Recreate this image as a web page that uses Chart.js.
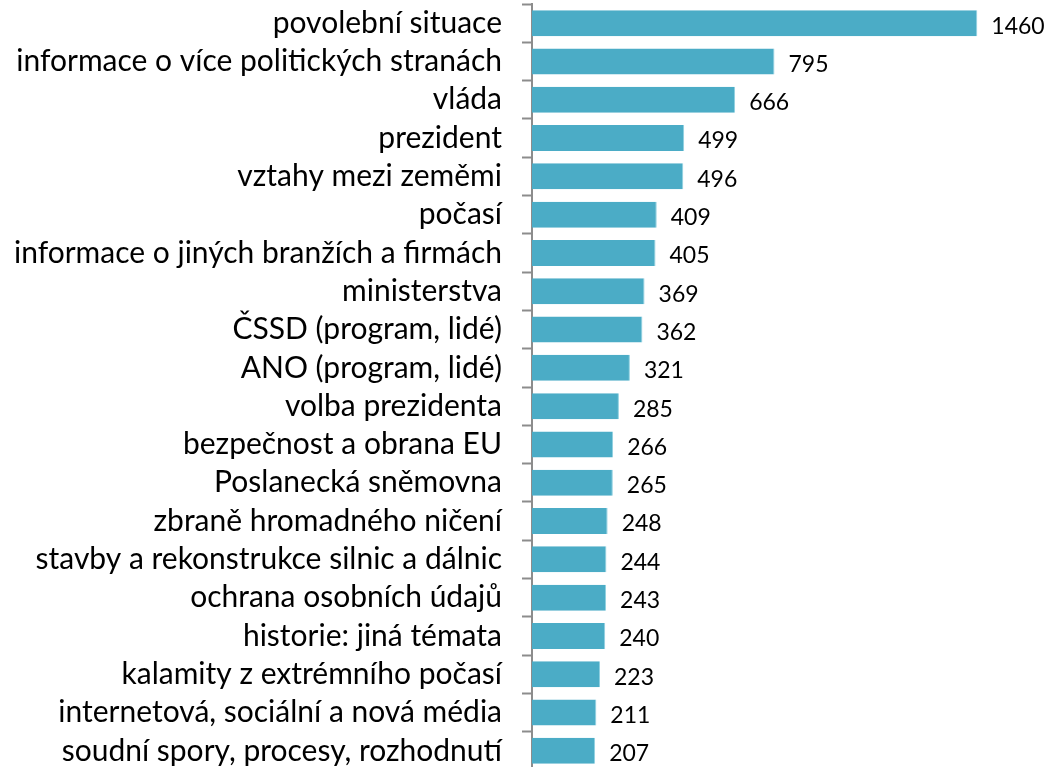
<!DOCTYPE html>
<html>
<head>
<meta charset="utf-8">
<script src="https://cdn.jsdelivr.net/npm/chart.js@4.4.1/dist/chart.umd.min.js"></script>
<style>
  html, body { margin: 0; padding: 0; background: #fff; overflow: hidden; }
  canvas { display: block; }
</style>
</head>
<body>
<canvas id="graf" width="1064" height="774"></canvas>
<script>
const temata = [
   'povolební situace',
   'informace o více politických stranách',
   'vláda',
   'prezident',
   'vztahy mezi zeměmi',
   'počasí',
   'informace o jiných branžích a firmách',
   'ministerstva',
   'ČSSD (program, lidé)',
   'ANO (program, lidé)',
   'volba prezidenta',
   'bezpečnost a obrana EU',
   'Poslanecká sněmovna',
   'zbraně hromadného ničení',
   'stavby a rekonstrukce silnic a dálnic',
   'ochrana osobních údajů',
   'historie: jiná témata',
   'kalamity z extrémního počasí',
   'internetová, sociální a nová média',
   'soudní spory, procesy, rozhodnutí'
];

const pocty = [1460, 795, 666, 499, 496, 409, 405, 369, 362, 321,
               285, 266, 265, 248, 244, 243, 240, 223, 211, 207];

const osaMax = 1600;

// popisky hodnot vpravo od sloupcu
const hodnotyPlugin = {
   id: 'hodnoty',
   afterDatasetsDraw(chart) {
      const ctx = chart.ctx;
      const meta = chart.getDatasetMeta(0);
      ctx.save();
      ctx.font = '23px Lato';
      ctx.fillStyle = '#000';
      ctx.textAlign = 'left';
      ctx.textBaseline = 'middle';
      meta.data.forEach((bar, i) => {
         ctx.fillText(String(pocty[i]), bar.x + 14, bar.y + 3);
      });
      ctx.restore();
   }
};

const ctx = document.getElementById('graf').getContext('2d');
const chart = new Chart(ctx, {
   type: 'bar',
   data: {
      labels: temata,
      datasets: [{
         data: pocty,
         backgroundColor: '#4BACC6',
         borderColor: '#8fd0e0',
         borderWidth: { right: 1, top: 0, bottom: 0, left: 0 },
         borderSkipped: 'start',
         categoryPercentage: 1,
         barPercentage: 0.68
      }]
   },
   options: {
      responsive: false,
      indexAxis: 'y',
      animation: false,
      layout: { padding: { top: 4, right: 44, bottom: 4, left: 15 } },
      plugins: {
         legend: { display: false },
         tooltip: { enabled: false }
      },
      scales: {
         x: {
            display: false,
            min: 0,
            max: osaMax
         },
         y: {
            afterFit: (s) => { s.paddingTop = 0; s.paddingBottom = 0; s.width = 517; },
            grid: {
               drawOnChartArea: false,
               tickLength: 10,
               tickWidth: 2,
               color: '#8c8c8c'
            },
            border: { display: true, color: '#8c8c8c', width: 2 },
            ticks: {
               autoSkip: false,
               color: '#000',
               padding: 20,
               font: { family: 'Lato', size: 30 }
            }
         }
      }
   },
   plugins: [hodnotyPlugin]
});
</script>
</body>
</html>
